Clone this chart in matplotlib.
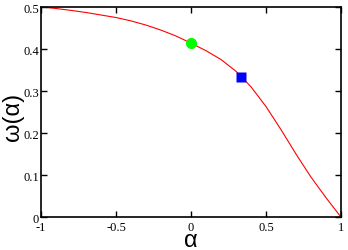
import matplotlib
matplotlib.use("Agg")
import matplotlib.pyplot as plt

alpha = [-1.0, -0.9, -0.8, -0.7, -0.6, -0.5, -0.4, -0.3, -0.2, -0.1, 0.0,
         0.1, 0.2, 0.3, 0.4, 0.5, 0.6, 0.7, 0.8, 0.9, 1.0]
omega = [0.5, 0.4965, 0.492, 0.487, 0.481, 0.475, 0.467, 0.457, 0.445, 0.431, 0.414,
         0.396, 0.375, 0.347, 0.310, 0.263, 0.208, 0.150, 0.095, 0.046, 0.0]
green_pt = (0.0, 0.414)
blue_pt = (0.333, 0.333)
xticks = [-1, -0.5, 0, 0.5, 1]
xticklabels = ["-1", "-0.5", "0", "0.5", "1"]
yticks = [0, 0.1, 0.2, 0.3, 0.4, 0.5]
yticklabels = ["0", "0.1", "0.2", "0.3", "0.4", "0.5"]

fig = plt.figure(figsize=(3.48, 2.51), dpi=100)
ax = fig.add_axes([0.118, 0.131, 0.862, 0.837])
ax.plot(alpha, omega, color="#ff0000", lw=0.8)
ax.plot([green_pt[0]], [green_pt[1]], "o", color="#00ff00", ms=8, mec="none")
ax.plot([blue_pt[0]], [blue_pt[1]], "s", color="#0000ff", ms=7.5, mec="none")
ax.set_xlim(-1, 1)
ax.set_ylim(0, 0.5)
ax.set_xticks(xticks)
ax.set_xticklabels(xticklabels, family="Liberation Serif", fontsize=9)
ax.set_yticks(yticks)
ax.set_yticklabels(yticklabels, family="Liberation Serif", fontsize=9)
ax.tick_params(direction="in", length=4, width=1, top=True, right=True, pad=1.5)
ax.tick_params(axis="x", pad=2.5)
for s in ax.spines.values():
    s.set_linewidth(1.2)
ax.set_xlabel("α", family="Liberation Sans", fontsize=17, va="center")
ax.xaxis.set_label_coords(0.5, -0.11)
ax.set_ylabel("ω(α)", family="Liberation Sans", fontsize=17, va="center")
ax.yaxis.set_label_coords(-0.095, 0.48)
fig.savefig("out.png", dpi=100)
